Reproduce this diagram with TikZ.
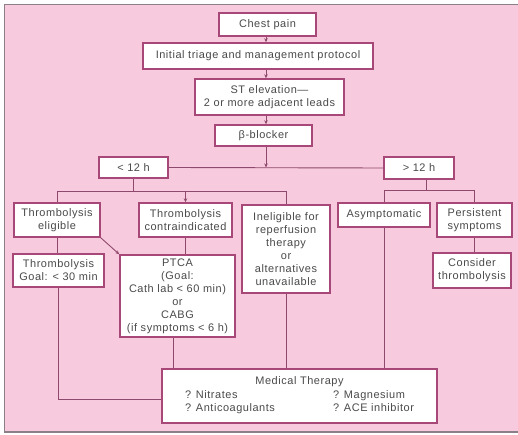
\documentclass[tikz,border=0pt]{standalone}
\usepackage{fontspec}
\setmainfont{Liberation Sans}[LetterSpace=5]
\usetikzlibrary{arrows.meta,calc}
\definecolor{bgpink}{HTML}{F8CADD}
\definecolor{boxline}{HTML}{A84878}
\definecolor{connline}{HTML}{8E4A6C}
\definecolor{txt}{HTML}{4A4A4A}
\definecolor{framegray}{HTML}{8C8088}
\begin{document}
\begin{tikzpicture}[x=1bp,y=-1bp,
  box/.style={draw=boxline, line width=1.4bp, fill=white, inner sep=2bp,
    align=center, text=txt, font=\fontsize{11}{13}\selectfont},
  conn/.style={draw=connline, line width=0.9bp},
  arr/.style={conn, -{Stealth[length=4bp,width=3.5bp]}}]
% page and pink panel
\useasboundingbox (0,0) rectangle (518,435);
\fill[white] (0,0) rectangle (518,435);
\fill[bgpink] (4,4) rectangle (518,432);
\draw[framegray, line width=1.5bp] (518,4.5) -- (4.5,4.5) -- (4.5,432) -- (518,432);

% boxes
\node[box, minimum width=97bp, minimum height=23bp] (chest) at (267.5,24.5) {Chest pain};
\node[box, minimum width=230bp, minimum height=26bp] (triage) at (258,56) {Initial triage and management protocol};
\node[box, minimum width=149bp, minimum height=36bp] (st) at (269.5,97) {ST elevation—\\2 or more adjacent leads};
\node[box, minimum width=97bp, minimum height=21bp] (beta) at (263.5,135.5) {β-blocker};
\node[box, minimum width=69bp, minimum height=21bp] (lt) at (133.5,167.5) {< 12 h};
\node[box, minimum width=70bp, minimum height=22bp] (gt) at (419,168) {> 12 h};
\node[box, minimum width=86bp, minimum height=34bp] (telig) at (57,220) {Thrombolysis\\eligible};
\node[box, minimum width=93bp, minimum height=34bp] (tcontra) at (185.5,220) {Thrombolysis\\contraindicated};
\node[box, minimum width=88bp, minimum height=88bp] (inelig) at (286,249) {Ineligible for\\reperfusion\\therapy\\or\\alternatives\\unavailable};
\node[box, minimum width=92bp, minimum height=24bp] (asym) at (384,215) {Asymptomatic};
\node[box, minimum width=75bp, minimum height=34bp] (persist) at (474.5,220) {Persistent\\symptoms};
\node[box, minimum width=78bp, minimum height=35bp] (consider) at (472,270.5) {Consider\\thrombolysis};
\node[box, minimum width=91bp, minimum height=33bp] (tgoal) at (58.5,270.5) {Thrombolysis\\Goal: < 30 min};
\node[box, minimum width=115bp, minimum height=82bp] (ptca) at (177.5,296) {PTCA\\(Goal:\\Cath lab < 60 min)\\or\\CABG\\(if symptoms < 6 h)};
\node[box, minimum width=275bp, minimum height=54bp] (med) at (299.5,396) {Medical Therapy\\[1bp]
  \begin{tabular}{@{}p{148bp}@{}l@{}}? Nitrates & ? Magnesium\\? Anticoagulants & ? ACE inhibitor\end{tabular}};

% main spine
\coordinate (spine) at (266,0);
\draw[arr] (spine |- chest.south) -- (spine |- triage.north);
\draw[arr] (spine |- triage.south) -- (spine |- st.north);
\draw[arr] (spine |- st.south) -- (spine |- beta.north);
\draw[conn] (lt.east) -- (gt.west);
\draw[arr] (spine |- beta.south) -- (spine |- lt.east);

% under 12 h branch
\coordinate (lrow) at (0,191);
\draw[conn] (lt.south) -- (lt.south |- lrow);
\draw[conn] (telig.north |- lrow) -- (inelig.north |- lrow);
\draw[conn] (telig.north |- lrow) -- (telig.north);
\draw[arr] (tcontra.north |- lrow) -- (tcontra.north);
\draw[conn] (inelig.north |- lrow) -- (inelig.north);
\draw[conn] (telig.south) -- (telig.south |- tgoal.north);
\draw[arr] (telig.south east) -- (ptca.north west);
\draw[conn] (tcontra.south) -- (tcontra.south |- ptca.north);

% over 12 h branch
\coordinate (rrow) at (0,190);
\draw[conn] ([xshift=7bp]gt.south) -- ([xshift=7bp]gt.south |- rrow);
\draw[conn] (asym.north |- rrow) -- (persist.north |- rrow);
\draw[conn] (asym.north |- rrow) -- (asym.north);
\draw[conn] (persist.north |- rrow) -- (persist.north);
\draw[conn] (persist.south) -- (persist.south |- consider.north);

% into medical therapy
\draw[conn] (tgoal.south) |- ([yshift=-3bp]med.west);
\draw[conn] ([xshift=-4bp]ptca.south) -- ([xshift=-4bp]ptca.south |- med.north);
\draw[conn] (inelig.south) -- (inelig.south |- med.north);
\draw[conn] (asym.south) -- (asym.south |- med.north);
\end{tikzpicture}
\end{document}
